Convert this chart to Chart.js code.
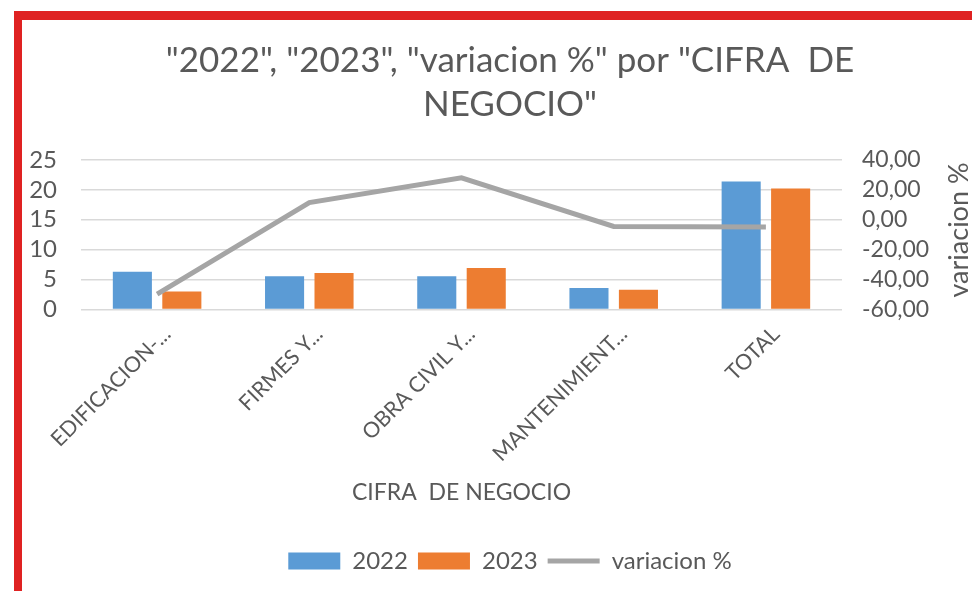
<!DOCTYPE html>
<html>
<head>
<meta charset="utf-8">
<script src="https://cdn.jsdelivr.net/npm/chart.js@4.4.1/dist/chart.umd.min.js"></script>
<style>
  html, body { margin: 0; padding: 0; background: #ffffff; }
  #wrap { position: relative; width: 972px; height: 591px; overflow: hidden; background: #fff; }
  #c { position: absolute; left: 0; top: 0; }
  .bar { position: absolute; background: #df2222; }
</style>
</head>
<body>
<div id="wrap">
  <canvas id="c" width="972" height="591"></canvas>
  <div class="bar" style="left:14px; top:11px; width:958px; height:9px;"></div>
  <div class="bar" style="left:14px; top:11px; width:8px; height:580px;"></div>
</div>
<script>
// ---- data ----
const categories = ["EDIFICACION-...", "FIRMES Y...", "OBRA CIVIL Y...", "MANTENIMIENT...", "TOTAL"];
const values2022 = [6.3, 5.55, 5.55, 3.6, 21.4];
const values2023 = [3.0, 6.1, 6.95, 3.3, 20.2];
const variacion = [-49.7, 11.5, 28.0, -4.5, -4.9];
const leftTicks = [0, 5, 10, 15, 20, 25];
const rightTicks = [-60, 40];
const seriesNames = ["2022", "2023", "variacion %"];
const chartTitle = ['"2022", "2023", "variacion %" por "CIFRA  DE', 'NEGOCIO"'];
const xTitle = "CIFRA  DE NEGOCIO";
const rightTitle = "variacion %";

const FONT = "Lato";
const TXT = "#595959";

const rightTitlePlugin = {
  id: 'rightTitle',
  afterDraw(chart) {
    const c = chart.ctx;
    c.save();
    c.translate(959, 230);
    c.rotate(-Math.PI / 2);
    c.font = "27px " + FONT;
    c.fillStyle = TXT;
    c.textAlign = "center";
    c.textBaseline = "middle";
    c.fillText(rightTitle, 0, 0);
    c.restore();
  }
};

new Chart(document.getElementById('c'), {
  data: {
    labels: categories,
    datasets: [
      { type: 'bar', label: seriesNames[0], data: values2022, backgroundColor: '#5b9bd5', borderWidth: 0, yAxisID: 'y', order: 1, pointStyle: 'rect',
        categoryPercentage: 0.65, barPercentage: 0.79 },
      { type: 'bar', label: seriesNames[1], data: values2023, backgroundColor: '#ed7d31', borderWidth: 0, yAxisID: 'y', order: 1, pointStyle: 'rect',
        categoryPercentage: 0.65, barPercentage: 0.79 },
      { type: 'line', label: seriesNames[2], data: variacion, borderColor: '#a5a5a5', backgroundColor: '#a5a5a5', borderWidth: 5,
        pointRadius: 0, pointHoverRadius: 0, pointStyle: 'line', tension: 0, yAxisID: 'y1', order: 0, fill: false }
    ]
  },
  options: {
    responsive: false,
    animation: false,
    devicePixelRatio: 1,
    layout: { padding: { left: 0, right: -48, top: 0, bottom: 8 } },
    plugins: {
      title: {
        display: true, text: chartTitle, color: TXT,
        font: { family: FONT, size: 35, weight: 'normal', lineHeight: 1.27 },
        padding: { top: 38, bottom: 33 }
      },
      legend: {
        position: 'bottom',
        labels: {
          usePointStyle: true, pointStyleWidth: 52, boxHeight: 17, padding: 10,
          color: TXT, font: { family: FONT, size: 24 },
          sort: (a, b) => a.datasetIndex - b.datasetIndex
        }
      },
      tooltip: { enabled: false }
    },
    scales: {
      x: {
        grid: { display: false, drawTicks: false },
        border: { display: false },
        ticks: { color: TXT, font: { family: FONT, size: 21.5 }, maxRotation: 45, minRotation: 45, padding: 12, labelOffset: 10, autoSkip: false },
        title: { display: true, text: xTitle, color: TXT, font: { family: FONT, size: 23, lineHeight: 1.2 }, padding: { top: 0, bottom: 33 } },
        afterFit(s) { s.height = 229.5; }
      },
      y: {
        position: 'left', min: leftTicks[0], max: leftTicks[leftTicks.length - 1],
        grid: { color: '#d9d9d9', lineWidth: 1.5, drawTicks: false },
        border: { display: false },
        ticks: { stepSize: 5, autoSkip: false, color: TXT, font: { family: FONT, size: 24 }, padding: 24 },
        afterFit(s) { s.width = 81; }
      },
      y1: {
        position: 'right', min: rightTicks[0], max: rightTicks[1],
        grid: { drawOnChartArea: false, drawTicks: false },
        border: { display: false },
        ticks: { stepSize: 20, autoSkip: false, color: TXT, font: { family: FONT, size: 23 }, padding: 20,
          callback: v => v.toFixed(2).replace('.', ',') },
        afterFit(s) { s.width = 178; }
      }
    }
  },
  plugins: [rightTitlePlugin]
});
</script>
</body>
</html>
